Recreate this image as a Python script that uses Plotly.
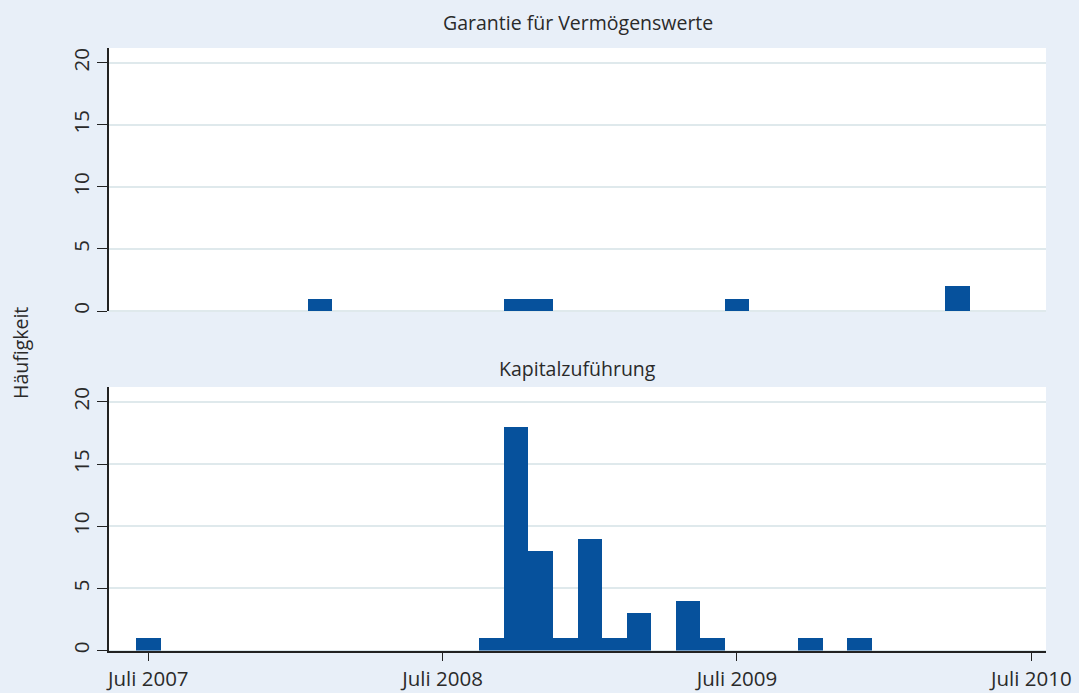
import plotly.graph_objects as go

# ---- data ----
garantie_months = ["2008-02", "2008-10", "2008-11", "2009-07", "2010-04"]
garantie_counts = [1, 1, 1, 1, 2]

kapital_months = ["2007-07", "2008-09", "2008-10", "2008-11", "2008-12", "2009-01",
                  "2009-02", "2009-03", "2009-05", "2009-06", "2009-10", "2009-12"]
kapital_counts = [1, 1, 18, 8, 1, 9, 1, 3, 4, 1, 1, 1]

tick_months = ["2007-07", "2008-07", "2009-07", "2010-07"]
tick_labels = ["Juli 2007", "Juli 2008", "Juli 2009", "Juli 2010"]
y_ticks = [0, 5, 10, 15, 20]

panel_titles = ["Garantie für Vermögenswerte", "Kapitalzuführung"]
y_title = "Häufigkeit"


def midx(s):
    y, m = s.split("-")
    return (int(y) - 2007) * 12 + (int(m) - 7)


BG = "#e8eff8"
BAR = "#06519c"
GRID = "#dfe9ec"
TXT = "#2a2a2a"
FONT = "Open Sans"
WT = 400

fig = go.Figure()
fig.add_trace(go.Bar(x=[midx(m) for m in garantie_months], y=garantie_counts, width=1,
                     marker=dict(color=BAR, line=dict(width=0)), xaxis="x", yaxis="y",
                     showlegend=False))
fig.add_trace(go.Bar(x=[midx(m) for m in kapital_months], y=kapital_counts, width=1,
                     marker=dict(color=BAR, line=dict(width=0)), xaxis="x2", yaxis="y2",
                     showlegend=False))

W, H = 1079, 693
xdom = [109 / W, 1046 / W]
top_dom = [1 - 311 / H, 1 - 48 / H]
bot_dom = [1 - 650.5 / H, 1 - 387 / H]
xr = [-1.6, 36.6]
yr = [0, 21.2]

yax = dict(range=yr, tickvals=y_ticks, ticks="outside", ticklen=10, tickwidth=1.2,
           tickcolor="#222", showline=True, linecolor="#222", linewidth=1.5,
           showgrid=True, gridcolor=GRID, gridwidth=2, zeroline=True, zerolinecolor=GRID,
           zerolinewidth=2, tickangle=-90, tickfont=dict(size=20.5, color=TXT, family=FONT, weight=WT),
           fixedrange=True, automargin=False)

fig.update_layout(
    width=W, height=H,
    margin=dict(l=0, r=0, t=0, b=0, autoexpand=False),
    paper_bgcolor=BG, plot_bgcolor="white",
    bargap=0,
    font=dict(family=FONT, color=TXT),
    xaxis=dict(domain=xdom, range=xr, anchor="y", showticklabels=False, ticks="",
               showgrid=False, zeroline=False, showline=False, fixedrange=True,
               automargin=False),
    yaxis=dict(domain=top_dom, anchor="x", **yax),
    xaxis2=dict(domain=xdom, range=xr, anchor="y2", tickvals=[midx(m) for m in tick_months],
                ticktext=tick_labels, ticks="outside", ticklen=9, tickwidth=1.2,
                tickcolor="#222", showline=True, linecolor="#222", linewidth=1.5,
                showgrid=False, zeroline=False, fixedrange=True, automargin=False,
                tickfont=dict(size=20.5, color=TXT, family=FONT, weight=WT)),
    yaxis2=dict(domain=bot_dom, anchor="x2", **yax),
    annotations=[
        dict(text=panel_titles[0], x=577.5 / W, y=1 - 22 / H, xref="paper", yref="paper",
             yanchor="middle", showarrow=False, font=dict(size=19.5, color=TXT, family=FONT, weight=WT)),
        dict(text=panel_titles[1], x=577.5 / W, y=1 - 368 / H, xref="paper", yref="paper",
             yanchor="middle", showarrow=False, font=dict(size=19.5, color=TXT, family=FONT, weight=WT)),
        dict(text=y_title, x=20 / W, y=1 - 353 / H, xref="paper", yref="paper",
             xanchor="center", yanchor="middle",
             showarrow=False, textangle=-90, font=dict(size=19.5, color=TXT, family=FONT, weight=WT)),
    ],
)

fig.write_html("out.html",
               config={"displayModeBar": False, "responsive": False},
               post_script="document.body.style.margin='0px';document.body.style.overflow='hidden';")
